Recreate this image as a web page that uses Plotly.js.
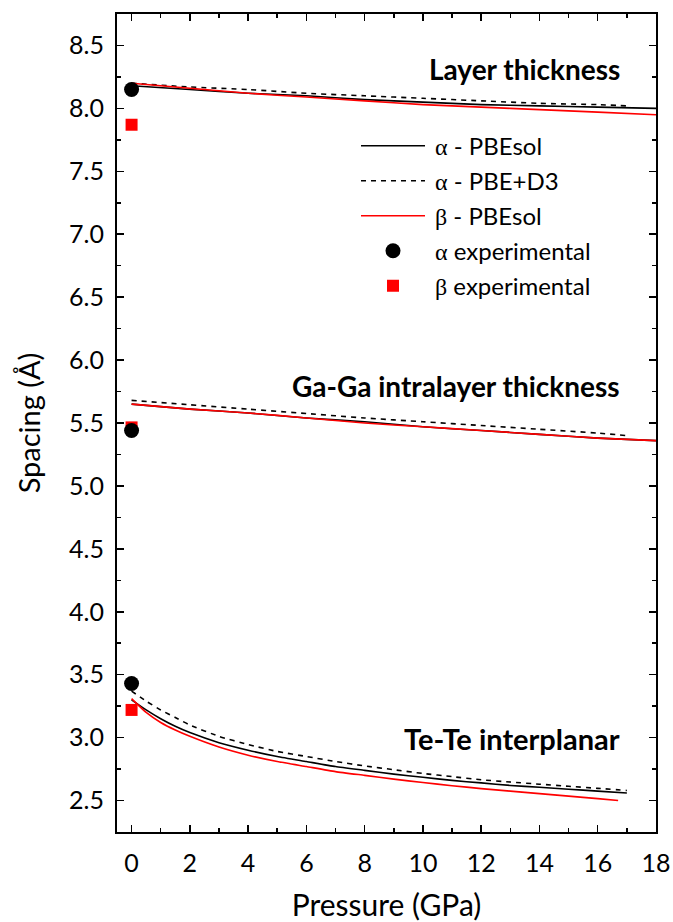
<!DOCTYPE html>
<html>
<head>
<meta charset="utf-8">
<script src="https://cdn.plot.ly/plotly-3.0.1.min.js"></script>
<style>html,body{margin:0;padding:0;background:#fff}#chart{width:673px;height:922px}</style>
</head>
<body>
<div id="chart"></div>
<script>
// ---- Data (pressure in GPa, spacing in Å) ----
// Layer thickness
var pLayer        = [0, 2, 4, 6, 8, 10, 12, 14, 16, 18];
var layerAlphaSol = [8.18, 8.15, 8.12, 8.10, 8.07, 8.05, 8.03, 8.02, 8.01, 8.00];
var layerBetaSol  = [8.20, 8.16, 8.12, 8.09, 8.06, 8.03, 8.01, 7.99, 7.97, 7.95];
var pLayerD3      = [0, 2, 4, 6, 8, 10, 12, 14, 16, 17];
var layerAlphaD3  = [8.20, 8.17, 8.15, 8.12, 8.10, 8.08, 8.06, 8.04, 8.03, 8.02];

// Ga-Ga intralayer thickness
var pGa         = [0, 2, 4, 6, 8, 10, 12, 14, 16, 18];
var gaAlphaSol  = [5.65, 5.61, 5.58, 5.54, 5.51, 5.47, 5.44, 5.41, 5.38, 5.36];
var gaBetaSol   = [5.65, 5.61, 5.58, 5.54, 5.50, 5.47, 5.44, 5.41, 5.38, 5.36];
var pGaD3       = [0, 2, 4, 6, 8, 10, 12, 14, 16, 17];
var gaAlphaD3   = [5.68, 5.645, 5.61, 5.575, 5.54, 5.51, 5.48, 5.45, 5.42, 5.40];

// Te-Te interplanar
var pTe         = [0, 0.5, 1, 1.5, 2, 3, 4, 5, 6, 7, 8, 9, 10, 11, 12, 13, 14, 15, 16, 17];
var teAlphaSol  = [3.30, 3.22, 3.15, 3.09, 3.04, 2.96, 2.90, 2.85, 2.81, 2.77, 2.74, 2.71, 2.685, 2.66, 2.64, 2.62, 2.605, 2.59, 2.575, 2.56];
var teAlphaD3   = [3.37, 3.29, 3.22, 3.16, 3.10, 3.01, 2.945, 2.89, 2.85, 2.81, 2.775, 2.745, 2.715, 2.69, 2.665, 2.647, 2.63, 2.613, 2.597, 2.58];
var pTeBeta     = [0, 0.5, 1, 1.5, 2, 3, 4, 5, 6, 7, 8, 9, 10, 11, 12, 13, 14, 15, 16, 16.7];
var teBetaSol   = [3.31, 3.20, 3.12, 3.06, 3.01, 2.925, 2.86, 2.81, 2.77, 2.73, 2.70, 2.67, 2.643, 2.618, 2.595, 2.575, 2.555, 2.535, 2.515, 2.50];

// Experimental (ambient pressure)
var pExp        = [0, 0, 0];
var expAlpha    = [8.15, 5.44, 3.43];
var expBeta     = [7.87, 5.465, 3.22];

// Labels
var GREEK = '<span style="font-family:\'Liberation Serif\',serif">';
var seriesNames = [GREEK + 'α</span> - PBEsol',
                   GREEK + 'α</span> - PBE+D3',
                   GREEK + 'β</span> - PBEsol',
                   GREEK + 'α</span> experimental',
                   GREEK + 'β</span> experimental'];
var regionLabels = ['Layer thickness', 'Ga-Ga intralayer thickness', 'Te-Te interplanar'];
var regionLabelY = [8.315, 5.795, 2.995];

function join3(a, b, c) { return a.concat([null], b, [null], c); }

var FONT = 'Lato, Open Sans, sans-serif';

var traces = [
  { x: join3(pLayer, pGa, pTe), y: join3(layerAlphaSol, gaAlphaSol, teAlphaSol),
    mode: 'lines', name: seriesNames[0], legendgroup: 'a', legendrank: 1,
    line: { color: '#000000', width: 1.6, shape: 'spline', smoothing: 0.5 } },
  { x: join3(pLayerD3, pGaD3, pTe), y: join3(layerAlphaD3, gaAlphaD3, teAlphaD3),
    mode: 'lines', name: seriesNames[1], legendgroup: 'b', legendrank: 2,
    line: { color: '#000000', width: 1.6, dash: '5px,5px', shape: 'spline', smoothing: 0.5 } },
  { x: join3(pLayer, pGa, pTeBeta), y: join3(layerBetaSol, gaBetaSol, teBetaSol),
    mode: 'lines', name: seriesNames[2], legendgroup: 'c', legendrank: 3,
    line: { color: '#ff0000', width: 1.6, shape: 'spline', smoothing: 0.5 } },
  { x: pExp, y: expBeta, mode: 'markers', name: seriesNames[4], legendgroup: 'e', legendrank: 5,
    marker: { symbol: 'square', color: '#ff0000', size: 12 } },
  { x: pExp, y: expAlpha, mode: 'markers', name: seriesNames[3], legendgroup: 'd', legendrank: 4,
    marker: { symbol: 'circle', color: '#000000', size: 15 } }
];

var labelSizes = [28, 28, 29];
var annotations = regionLabels.map(function (t, i) {
  return { x: 16.85, y: regionLabelY[i], xref: 'x', yref: 'y', text: '<b>' + t + '</b>',
           showarrow: false, xanchor: 'right', yanchor: 'middle',
           font: { family: FONT, size: labelSizes[i], color: '#000' } };
});

var axisCommon = {
  showline: true, linewidth: 2, linecolor: '#000', mirror: 'ticks',
  ticks: 'inside', ticklen: 7, tickwidth: 1.5, tickcolor: '#000',
  showgrid: false, zeroline: false,
  tickfont: { family: FONT, size: 25, color: '#000' }
};

var layout = {
  width: 673, height: 922,
  margin: { l: 117, r: 17, t: 14, b: 90 },
  paper_bgcolor: '#fff', plot_bgcolor: '#fff',
  showlegend: true,
  legend: { x: 0.449, y: 0.866, xanchor: 'left', yanchor: 'top',
            bgcolor: 'rgba(0,0,0,0)', borderwidth: 0, tracegroupgap: 0.8, itemwidth: 66,
            font: { family: FONT, size: 24, color: '#000' } },
  xaxis: Object.assign({}, axisCommon, {
    range: [-0.5, 18], dtick: 2, tick0: 0, ticklabelstandoff: 8,
    minor: { dtick: 1, ticks: 'inside', ticklen: 4, tickcolor: '#000', tickwidth: 1.5 },
    title: { text: 'Pressure (GPa)', font: { family: FONT, size: 30, color: '#000' }, standoff: 24 }
  }),
  yaxis: Object.assign({}, axisCommon, {
    range: [2.25, 8.75], dtick: 0.5, tick0: 0, tickformat: '.1f', ticklabelstandoff: 6,
    minor: { dtick: 0.25, ticks: 'inside', ticklen: 4, tickcolor: '#000', tickwidth: 1.5 },
    title: { text: 'Spacing (Å)', font: { family: FONT, size: 29, color: '#000' }, standoff: 20 }
  }),
  annotations: annotations
};

Plotly.newPlot('chart', traces, layout, { staticPlot: true }).then(function (gd) {
  // lengthen legend line samples and centre the legend markers on them
  gd.querySelectorAll('.legend .legendlines path').forEach(function (p) {
    p.setAttribute('d', 'M2,0h64');
  });
  gd.querySelectorAll('.legend .legendpoints path').forEach(function (p) {
    p.setAttribute('transform', 'translate(34,0)');
  });
});
</script>
</body>
</html>
